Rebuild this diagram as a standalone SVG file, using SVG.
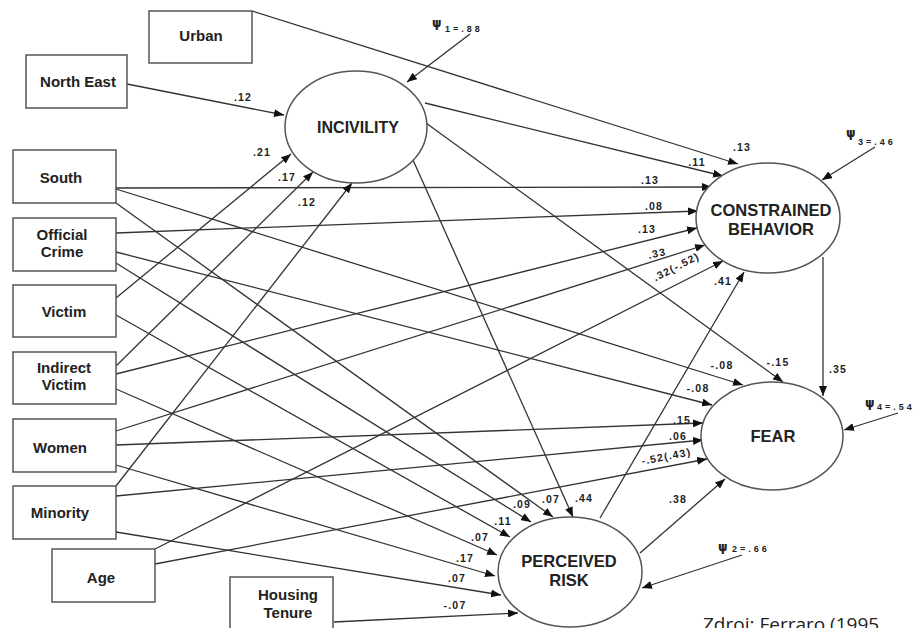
<svg xmlns="http://www.w3.org/2000/svg" width="917" height="628" viewBox="0 0 917 628">
<style>
.box{fill:#fff;stroke:#555;stroke-width:1.5}
.ell{fill:#fff;stroke:#555;stroke-width:1.5}
.bt{font-family:"Liberation Sans",Arial,sans-serif;font-weight:bold;font-size:15px;fill:#222;text-anchor:middle}
.et{font-family:"Liberation Sans",Arial,sans-serif;font-weight:bold;font-size:16.5px;fill:#222;text-anchor:middle}
.lb{font-family:"Liberation Sans",Arial,sans-serif;font-weight:bold;font-size:10.5px;letter-spacing:1.2px;fill:#222;text-anchor:middle}
.ps{font-family:"DejaVu Sans","Liberation Sans",sans-serif;font-weight:bold;font-size:12px;fill:#222}
.pn{font-family:"Liberation Sans",Arial,sans-serif;font-weight:bold;font-size:9px;letter-spacing:3px;fill:#222}
.cn line{stroke:#333;stroke-width:1.3;marker-end:url(#ah)}
.cap{font-family:"Open Sans","Noto Sans",sans-serif;font-size:19px;fill:#222}
</style>
<defs>
<marker id="ah" markerUnits="userSpaceOnUse" markerWidth="11" markerHeight="8" refX="10" refY="4" orient="auto">
<path d="M0,0 L10,4 L0,8 z" fill="#111"/>
</marker>
</defs>
<rect width="917" height="628" fill="#fff"/>

<g id="connectors" class="cn">
<line x1="252" y1="11" x2="738" y2="164"/>
<line x1="127" y1="84" x2="284" y2="115"/>
<line x1="425" y1="103" x2="723" y2="176"/>
<line x1="116" y1="188" x2="712" y2="187"/>
<line x1="116" y1="233" x2="698" y2="211"/>
<line x1="116" y1="374" x2="697" y2="228"/>
<line x1="116" y1="431" x2="705" y2="245"/>
<line x1="155" y1="549" x2="723" y2="261"/>
<line x1="600" y1="518" x2="744" y2="272"/>
<line x1="823" y1="257" x2="823" y2="396"/>
<line x1="426" y1="123" x2="783" y2="382"/>
<line x1="116" y1="189" x2="743" y2="385"/>
<line x1="116" y1="252" x2="712" y2="405"/>
<line x1="116" y1="445" x2="703" y2="423"/>
<line x1="116" y1="496" x2="703" y2="440"/>
<line x1="155" y1="564" x2="707" y2="459"/>
<line x1="640" y1="553" x2="725" y2="479"/>
<line x1="116" y1="298" x2="291" y2="154"/>
<line x1="116" y1="366" x2="313" y2="172"/>
<line x1="116" y1="486" x2="352" y2="183"/>
<line x1="413" y1="160" x2="573" y2="517"/>
<line x1="116" y1="203" x2="553" y2="517"/>
<line x1="116" y1="263" x2="531" y2="522"/>
<line x1="116" y1="315" x2="510" y2="537"/>
<line x1="116" y1="389" x2="497" y2="555"/>
<line x1="116" y1="465" x2="495" y2="576"/>
<line x1="116" y1="532" x2="501" y2="595"/>
<line x1="334" y1="622" x2="518" y2="613"/>
<line x1="470" y1="34" x2="407" y2="82"/>
<line x1="875" y1="147" x2="822" y2="180"/>
<line x1="898" y1="413" x2="844" y2="430"/>
<line x1="742" y1="555" x2="642" y2="588"/>
</g>

<g id="edge-labels">
<text class="lb" x="742" y="151">.13</text>
<text class="lb" x="243" y="101">.12</text>
<text class="lb" x="697" y="166">.11</text>
<text class="lb" x="650" y="184">.13</text>
<text class="lb" x="654" y="210">.08</text>
<text class="lb" x="647" y="233">.13</text>
<text class="lb" x="658" y="257" transform="rotate(-12 658 257)">.33</text>
<text class="lb" x="678" y="270" transform="rotate(-27 678 270)">.32(-.52)</text>
<text class="lb" x="723" y="285">.41</text>
<text class="lb" x="838" y="373">.35</text>
<text class="lb" x="778" y="366">-.15</text>
<text class="lb" x="722" y="369">-.08</text>
<text class="lb" x="698" y="392">-.08</text>
<text class="lb" x="682" y="424">.15</text>
<text class="lb" x="678" y="440">.06</text>
<text class="lb" x="667" y="460" transform="rotate(-11 667 460)">-.52(.43)</text>
<text class="lb" x="678" y="503">.38</text>
<text class="lb" x="262" y="156">.21</text>
<text class="lb" x="287" y="181">.17</text>
<text class="lb" x="307" y="206">.12</text>
<text class="lb" x="584" y="502">.44</text>
<text class="lb" x="551" y="503">.07</text>
<text class="lb" x="522" y="508">.09</text>
<text class="lb" x="503" y="525">.11</text>
<text class="lb" x="480" y="541">.07</text>
<text class="lb" x="465" y="562">.17</text>
<text class="lb" x="457" y="582">.07</text>
<text class="lb" x="455" y="609">-.07</text>
</g>

<g id="disturbances">
<text class="ps" x="432" y="27">ψ</text><text class="pn" x="445" y="32">1=.88</text>
<text class="ps" x="846" y="137">ψ</text><text class="pn" x="858" y="145">3=.46</text>
<text class="ps" x="865" y="407">ψ</text><text class="pn" x="877" y="410">4=.54</text>
<text class="ps" x="718" y="551">ψ</text><text class="pn" x="732" y="552">2=.66</text>
</g>

<g id="urban"><rect class="box" x="149" y="11" width="103" height="52"/><text class="bt" x="201" y="41">Urban</text></g>
<g id="north-east"><rect class="box" x="26" y="55" width="101" height="53"/><text class="bt" x="78" y="87">North East</text></g>
<g id="south"><rect class="box" x="13" y="150" width="103" height="53"/><text class="bt" x="61" y="183">South</text></g>
<g id="official-crime"><rect class="box" x="13" y="218" width="103" height="53"/><text class="bt" x="62" y="240">Official</text><text class="bt" x="62" y="257">Crime</text></g>
<g id="victim"><rect class="box" x="13" y="285" width="103" height="52"/><text class="bt" x="64" y="317">Victim</text></g>
<g id="indirect-victim"><rect class="box" x="13" y="352" width="103" height="52"/><text class="bt" x="64" y="373">Indirect</text><text class="bt" x="64" y="390">Victim</text></g>
<g id="women"><rect class="box" x="13" y="419" width="103" height="53"/><text class="bt" x="60" y="453">Women</text></g>
<g id="minority"><rect class="box" x="13" y="486" width="103" height="53"/><text class="bt" x="60" y="518">Minority</text></g>
<g id="age"><rect class="box" x="52" y="549" width="103" height="53"/><text class="bt" x="101" y="583">Age</text></g>
<g id="housing-tenure"><rect class="box" x="230" y="577" width="103" height="60"/><text class="bt" x="288" y="600">Housing</text><text class="bt" x="288" y="618">Tenure</text></g>

<g id="incivility"><ellipse class="ell" cx="356" cy="127" rx="71" ry="56"/><text class="et" x="358" y="133" style="font-size:16px">INCIVILITY</text></g>
<g id="constrained-behavior"><ellipse class="ell" cx="768" cy="218" rx="72" ry="55"/><text class="et" x="771" y="216">CONSTRAINED</text><text class="et" x="771" y="235">BEHAVIOR</text></g>
<g id="fear"><ellipse class="ell" cx="772" cy="436" rx="71" ry="54"/><text class="et" x="773" y="442">FEAR</text></g>
<g id="perceived-risk"><ellipse class="ell" cx="570" cy="572" rx="72" ry="55"/><text class="et" x="569" y="567">PERCEIVED</text><text class="et" x="569" y="586">RISK</text></g>

<text class="cap" x="703" y="631">Zdroj: Ferraro (1995</text>
</svg>
